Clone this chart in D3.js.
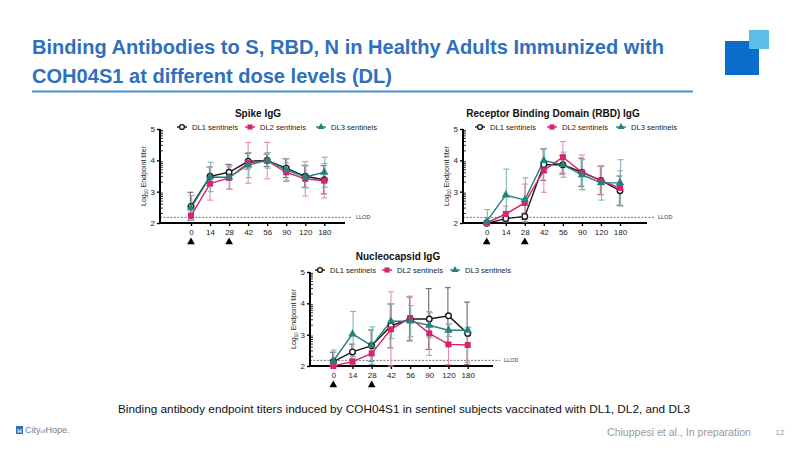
<!DOCTYPE html>
<html>
<head>
<meta charset="utf-8">
<script src="https://cdn.jsdelivr.net/npm/d3@7"></script>
<style>
    body { margin: 0; background: #fff; }
    svg { display: block; font-family: "Liberation Sans", Arial, sans-serif; }
</style>
</head>
<body>
<svg id="slide" width="800" height="450"></svg>
<script>

// days after first dose (categorical x axis)
var days = ["0", "14", "28", "42", "56", "90", "120", "180"];
var doseDays = ["0", "28"];
var seriesNames = ["DL1 sentinels", "DL2 sentinels", "DL3 sentinels"];
var yTicks = [2, 3, 4, 5];
var llod = 2.18;

// Spike IgG, log10 endpoint titer, mean and error
var spikeDL1 = [2.53, 3.49, 3.62, 3.97, 4.0, 3.75, 3.49, 3.38];
var spikeDL1Err = [0.45, 0.3, 0.25, 0.25, 0.2, 0.3, 0.35, 0.45];
var spikeDL2 = [2.23, 3.26, 3.44, 3.92, 3.99, 3.62, 3.41, 3.35];
var spikeDL2Err = [0.12, 0.53, 0.35, 0.65, 0.58, 0.3, 0.55, 0.55];
var spikeDL3 = [2.48, 3.47, 3.46, 3.85, 4.0, 3.7, 3.47, 3.62];
var spikeDL3Err = [0.4, 0.47, 0.38, 0.4, 0.25, 0.35, 0.35, 0.48];

// RBD IgG
var rbdDL1 = [1.99, 2.14, 2.21, 3.86, 3.86, 3.62, 3.36, 3.03];
var rbdDL1Err = [0.03, 0.1, 0.1, 0.5, 0.3, 0.45, 0.45, 0.47];
var rbdDL2 = [2.0, 2.29, 2.64, 3.68, 4.1, 3.62, 3.35, 3.12];
var rbdDL2Err = [0.03, 0.25, 0.6, 0.7, 0.5, 0.55, 0.45, 0.55];
var rbdDL3 = [2.05, 2.89, 2.74, 3.99, 3.86, 3.54, 3.28, 3.28];
var rbdDL3Err = [0.38, 0.83, 0.7, 0.38, 0.4, 0.48, 0.55, 0.74];

// Nucleocapsid IgG
var ncDL1 = [2.14, 2.45, 2.65, 3.28, 3.5, 3.5, 3.6, 3.04];
var ncDL1Err = [0.3, 0.25, 0.5, 0.7, 0.7, 0.97, 0.9, 1.0];
var ncDL2 = [2.0, 2.14, 2.4, 3.17, 3.53, 3.04, 2.69, 2.67];
var ncDL2Err = [0.05, 0.1, 0.35, 1.2, 0.7, 0.7, 0.65, 0.55];
var ncDL3 = [2.16, 3.02, 2.65, 3.43, 3.43, 3.3, 3.14, 3.14];
var ncDL3Err = [0.35, 0.72, 0.6, 0.55, 0.5, 0.4, 0.2, 0.1];

var colors = ["#1a1a1a", "#d6246e", "#24837f"];
var errColors = ["#6a6a6a", "#e58cb0", "#7fb8b5"];

var svg = d3.select("#slide");

// slide header
svg.append("text")
    .attr("x", 32).attr("y", 54)
    .attr("font-weight", "bold")
    .attr("font-size", 21)
    .attr("fill", "#2f70bd")
    .attr("textLength", 632)
    .attr("lengthAdjust", "spacingAndGlyphs")
    .text("Binding Antibodies to S, RBD, N in Healthy Adults Immunized with");

svg.append("text")
    .attr("x", 32).attr("y", 83)
    .attr("font-weight", "bold")
    .attr("font-size", 21)
    .attr("fill", "#2f70bd")
    .attr("textLength", 360)
    .attr("lengthAdjust", "spacingAndGlyphs")
    .text("COH04S1 at different dose levels (DL)");

svg.append("line")
    .attr("x1", 32).attr("x2", 693)
    .attr("y1", 91.5).attr("y2", 91.5)
    .attr("stroke", "#4a8fd6")
    .attr("stroke-width", 2);

svg.append("rect")
    .attr("x", 725).attr("y", 41).attr("width", 34).attr("height", 34)
    .attr("fill", "#0a6ccb");
svg.append("rect")
    .attr("x", 749).attr("y", 30).attr("width", 20).attr("height", 19)
    .attr("fill", "#5cbfe8");

// footer
svg.append("text")
    .attr("x", 404).attr("y", 413)
    .attr("text-anchor", "middle")
    .attr("font-size", 11.8)
    .attr("fill", "#111")
    .attr("textLength", 572)
    .attr("lengthAdjust", "spacingAndGlyphs")
    .text("Binding antibody endpoint titers induced by COH04S1 in sentinel subjects vaccinated with DL1, DL2, and DL3");

svg.append("text")
    .attr("x", 751).attr("y", 436)
    .attr("text-anchor", "end")
    .attr("font-size", 11)
    .attr("fill", "#9a9a9a")
    .attr("textLength", 144)
    .attr("lengthAdjust", "spacingAndGlyphs")
    .text("Chiuppesi et al., In preparation");

svg.append("text")
    .attr("x", 780).attr("y", 435)
    .attr("text-anchor", "middle")
    .attr("font-size", 8)
    .attr("fill", "#9a9a9a")
    .text("12");

svg.append("rect")
    .attr("x", 16).attr("y", 426).attr("width", 7).attr("height", 8)
    .attr("fill", "#2f70bd");
svg.append("text")
    .attr("x", 19.5).attr("y", 432.5)
    .attr("text-anchor", "middle")
    .attr("font-size", 6)
    .attr("font-weight", "bold")
    .attr("fill", "#fff")
    .text("H");
svg.append("text")
    .attr("x", 25).attr("y", 433)
    .attr("font-size", 9)
    .attr("fill", "#6b7f99")
    .text("City")
    .append("tspan").attr("font-size", 6).text("of")
    .select(function () { return this.parentNode; })
    .append("tspan").attr("font-size", 9).text("Hope.");

// layout of the three panels: y axis x, x axis end, first/last day tick
var panels = [
    {
        title: "Spike IgG", series: [spikeDL1, spikeDL2, spikeDL3],
        errors: [spikeDL1Err, spikeDL2Err, spikeDL3Err],
        x0: 160, x1: 345, first: 191, last: 324.3, yTop: 129, yBottom: 223,
        titleX: 258, legendX: [182, 250, 321], legendY: 127
    },
    {
        title: "Receptor Binding Domain (RBD) IgG", series: [rbdDL1, rbdDL2, rbdDL3],
        errors: [rbdDL1Err, rbdDL2Err, rbdDL3Err],
        x0: 463, x1: 647, first: 486.7, last: 620, yTop: 129, yBottom: 223,
        titleX: 553, legendX: [480, 552, 621], legendY: 127
    },
    {
        title: "Nucleocapsid IgG", series: [ncDL1, ncDL2, ncDL3],
        errors: [ncDL1Err, ncDL2Err, ncDL3Err],
        x0: 310, x1: 493, first: 333.3, last: 467.7, yTop: 272, yBottom: 366,
        titleX: 398, legendX: [320, 387, 455], legendY: 270
    }
];

function drawMarker(g, k, cx, cy, s) {
    s = s || 1;
    if (k === 0) {
        g.append("circle")
            .attr("cx", cx).attr("cy", cy).attr("r", 2.8 * s)
            .attr("fill", "#fff")
            .attr("stroke", colors[0])
            .attr("stroke-width", 1.4);
    } else if (k === 1) {
        g.append("rect")
            .attr("x", cx - 3 * s).attr("y", cy - 3 * s)
            .attr("width", 6 * s).attr("height", 6 * s)
            .attr("fill", colors[1]);
    } else {
        g.append("path")
            .attr("transform", "translate(" + cx + "," + cy + ")")
            .attr("d", d3.symbol(d3.symbolTriangle, 30 * s * s)())
            .attr("fill", colors[2]);
    }
}

function drawPanel(p) {

    var g = svg.append("g");

    var x = d3.scaleLinear().domain([0, days.length - 1]).range([p.first, p.last]);
    var y = d3.scaleLinear().domain([2, 5]).range([p.yBottom, p.yTop]);

    g.append("text")
        .attr("x", p.titleX).attr("y", p.legendY - 10)
        .attr("text-anchor", "middle")
        .attr("font-size", 10)
        .attr("font-weight", "bold")
        .attr("fill", "#111")
        .text(p.title);

    // legend
    seriesNames.forEach(function (name, k) {
        var lx = p.legendX[k];
        g.append("line")
            .attr("x1", lx - 5).attr("x2", lx + 5)
            .attr("y1", p.legendY).attr("y2", p.legendY)
            .attr("stroke", colors[k])
            .attr("stroke-width", 1.4);
        drawMarker(g, k, lx, p.legendY, 0.85);
        g.append("text")
            .attr("x", lx + 10).attr("y", p.legendY + 2.8)
            .attr("font-size", 7.6)
            .attr("fill", "#222")
            .text(name);
    });

    // LLOD
    g.append("line")
        .attr("x1", p.x0).attr("x2", p.x1 + 7)
        .attr("y1", y(llod)).attr("y2", y(llod))
        .attr("stroke", "#777")
        .attr("stroke-width", 1)
        .attr("stroke-dasharray", "2,1.5");
    g.append("text")
        .attr("x", p.x1 + 11).attr("y", y(llod) + 2)
        .attr("font-size", 5.5)
        .attr("fill", "#333")
        .text("LLOD");

    // axes
    var yAxis = g.append("g")
        .attr("transform", "translate(" + p.x0 + ",0)")
        .call(d3.axisLeft(y).tickValues(yTicks).tickSize(3).tickFormat(d3.format("d")));

    var minor = [];
    [2, 3, 4].forEach(function (n) {
        d3.range(2, 10).forEach(function (m) { minor.push(n + Math.log10(m)); });
    });
    yAxis.selectAll(".minor").data(minor).enter()
        .append("line")
        .attr("class", "minor")
        .attr("x1", 0).attr("x2", 3)
        .attr("y1", function (d) { return y(d); })
        .attr("y2", function (d) { return y(d); })
        .attr("stroke", "#000")
        .attr("stroke-width", 0.8);

    var xAxis = g.append("g")
        .attr("transform", "translate(0," + p.yBottom + ")")
        .call(d3.axisBottom(x).tickValues(d3.range(days.length)).tickSize(3)
            .tickFormat(function (i) { return days[i]; }));

    [yAxis, xAxis].forEach(function (a) {
        a.select(".domain").attr("stroke", "#000").attr("stroke-width", 2);
        a.selectAll(".tick line").attr("stroke", "#000").attr("stroke-width", 1.4);
        a.selectAll(".tick text")
            .attr("font-family", "'Liberation Sans', Arial")
            .attr("font-size", 8)
            .attr("fill", "#222");
    });
    xAxis.select(".domain").attr("d", "M" + p.x0 + ",0H" + p.x1);
    yAxis.select(".domain").attr("d", "M0," + (p.yBottom + 1) + "V" + p.yTop);
    yAxis.selectAll(".tick text").attr("x", -5);
    xAxis.selectAll(".tick text").attr("y", 6);

    g.append("text")
        .attr("transform", "translate(" + (p.x0 - 14) + "," + ((p.yTop + p.yBottom) / 2) + ") rotate(-90)")
        .attr("text-anchor", "middle")
        .attr("font-size", 7)
        .attr("fill", "#222")
        .text("Log")
        .append("tspan").attr("font-size", 4.5).attr("dy", 1.5).text("10")
        .select(function () { return this.parentNode; })
        .append("tspan").attr("dy", -1.5).text(" Endpoint titer");

    // dose arrows
    doseDays.forEach(function (d) {
        var i = days.indexOf(d);
        g.append("path")
            .attr("transform", "translate(" + x(i) + "," + (p.yBottom + 19) + ")")
            .attr("d", d3.symbol(d3.symbolTriangle, 26)())
            .attr("fill", "#000");
    });

    // error bars
    p.series.forEach(function (vals, k) {
        vals.forEach(function (v, i) {
            var lo = Math.max(2, v - p.errors[k][i]);
            var hi = Math.min(5, v + p.errors[k][i]);
            var cx = x(i) + (k - 1) * 0.6;
            g.append("line")
                .attr("x1", cx).attr("x2", cx)
                .attr("y1", y(lo)).attr("y2", y(hi))
                .attr("stroke", errColors[k]).attr("stroke-width", 1.1);
            [lo, hi].forEach(function (e) {
                g.append("line")
                    .attr("x1", cx - 3).attr("x2", cx + 3)
                    .attr("y1", y(e)).attr("y2", y(e))
                    .attr("stroke", errColors[k]).attr("stroke-width", 1.1);
            });
        });
    });

    // lines and markers
    var line = d3.line()
        .x(function (d, i) { return x(i); })
        .y(function (d) { return y(d); });

    p.series.forEach(function (vals, k) {
        g.append("path")
            .datum(vals)
            .attr("d", line)
            .attr("fill", "none")
            .attr("stroke", colors[k])
            .attr("stroke-width", 1.4);
    });
    p.series.forEach(function (vals, k) {
        vals.forEach(function (v, i) {
            drawMarker(g, k, x(i), y(v));
        });
    });
}

panels.forEach(drawPanel);

</script>
</body>
</html>
